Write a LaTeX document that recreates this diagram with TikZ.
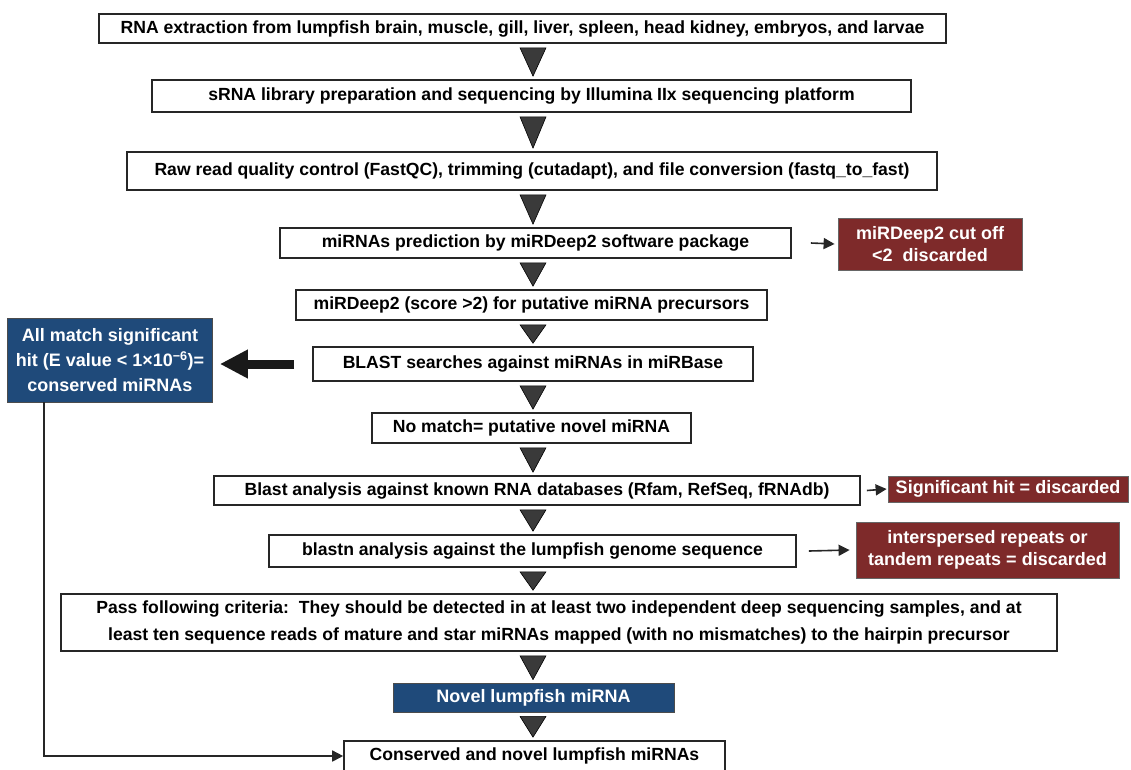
\documentclass[tikz,border=0pt]{standalone}
\usepackage{fontspec}
\setmainfont{Liberation Sans}
\usetikzlibrary{arrows.meta,calc}
\definecolor{boxred}{HTML}{7E2A2A}
\definecolor{boxblue}{HTML}{1F4A7A}
\definecolor{trigray}{HTML}{3A3A3A}
\begin{document}
\begin{tikzpicture}[x=1pt,y=-1pt,
  wbox/.style={draw=black!85,line width=1.6pt,fill=white,inner sep=0pt,font=\bfseries\fontsize{17.6}{27}\selectfont,align=center},
  rbox/.style={draw=black!60,line width=0.8pt,fill=boxred,text=white,inner sep=0pt,font=\bfseries\fontsize{18}{22.5}\selectfont,align=center},
  bbox/.style={draw=black!70,line width=0.8pt,fill=boxblue,text=white,inner sep=0pt,font=\bfseries\fontsize{18}{25}\selectfont,align=center},
  tri/.style={fill=trigray,draw=black,line width=0.6pt,line join=round},
  sarrow/.style={draw=black!85,line width=1.6pt,-{Triangle[length=11pt,width=11pt]}},
]
\useasboundingbox (0,0) rectangle (1131,769);
\coordinate (ax) at (533,0);

\node[wbox,minimum width=847pt,minimum height=29pt] (n1) at (522.5,28.5) {RNA extraction from lumpfish brain, muscle, gill, liver, spleen, head kidney, embryos, and larvae};
\node[wbox,minimum width=759pt,minimum height=32pt] (n2) at (531.5,96) {sRNA library preparation and sequencing by Illumina IIx sequencing platform};
\node[wbox,minimum width=810pt,minimum height=38pt] (n3) at (532,171) {Raw read quality control (FastQC), trimming (cutadapt), and file conversion (fastq\_to\_fast)};
\node[wbox,minimum width=511pt,minimum height=30pt] (n4) at (535.5,243) {miRNAs prediction by miRDeep2 software package};
\node[wbox,minimum width=471pt,minimum height=30pt] (n5) at (531.5,305) {miRDeep2 (score {>}2) for putative miRNA precursors};
\node[wbox,minimum width=440pt,minimum height=34pt] (n6) at (533,364) {BLAST searches against miRNAs in miRBase};
\node[wbox,minimum width=319pt,minimum height=30pt] (n7) at (531.5,428) {No match= putative novel miRNA};
\node[wbox,minimum width=646pt,minimum height=29pt] (n8) at (537,490.5) {Blast analysis against known RNA databases (Rfam, RefSeq, fRNAdb)};
\node[wbox,minimum width=527pt,minimum height=32pt] (n9) at (532.5,551) {blastn analysis against the lumpfish genome sequence};
\node[wbox,minimum width=996pt,minimum height=57pt] (n10) at (559,622.5) {Pass following criteria:\ \ They should be detected in at least two independent deep sequencing samples, and at\\least ten sequence reads of mature and star miRNAs mapped (with no mismatches) to the hairpin precursor};
\node[bbox,minimum width=281pt,minimum height=29pt] (n11) at (533.5,697.5) {Novel lumpfish miRNA};
\node[wbox,minimum width=381pt,minimum height=30pt] (n12) at (534.5,756) {Conserved and novel lumpfish miRNAs};

\node[rbox,minimum width=184pt,minimum height=52pt] (r1) at (930,244) {miRDeep2 cut off\\{<}2\ \ discarded};
\node[rbox,minimum width=240pt,minimum height=26pt] (r2) at (1008,489) {Significant hit = discarded};
\node[rbox,minimum width=263pt,minimum height=56pt] (r3) at (987.5,550) {interspersed repeats or\\tandem repeats = discarded};
\node[bbox,minimum width=205pt,minimum height=84pt] (b1) at (110,360) {All match significant\\hit (E value {<} 1\texttimes10\textsuperscript{\textminus6})=\\conserved miRNAs};

% triangles
\foreach \a/\b in {n1/n2,n2/n3,n3/n4,n4/n5,n5/n6,n6/n7,n7/n8,n8/n9,n9/n10,n10/n11,n11/n12}{
  \draw[tri] ($(\a.south -| ax)+(-13,4)$) -- ($(\a.south -| ax)+(13,4)$) -- ($(\b.north -| ax)+(0,-3)$) -- cycle;
}

% side arrows
\draw[sarrow] ($(n4.east)+(19,0)$) -- ($(r1.west)+(-3,0)$);
\draw[sarrow] ($(n8.east)+(6,0)$) -- ($(r2.west)+(-1,0)$);
\draw[sarrow] ($(n9.east)+(12,0)$) -- ($(r3.west)+(-6,0)$);
\draw[line width=9pt,draw=black!90,-{Triangle[length=28pt,width=27pt]}] ($(n6.west)+(-18,0)$) -- ($(b1.east)+(7,4)$ |- n6.west);

% conserved path
\draw[line width=1.6pt,draw=black!85,-{Triangle[length=11pt,width=11pt]}] ($(b1.south west)+(37,0)$) |- (n12.west);
\end{tikzpicture}
\end{document}
